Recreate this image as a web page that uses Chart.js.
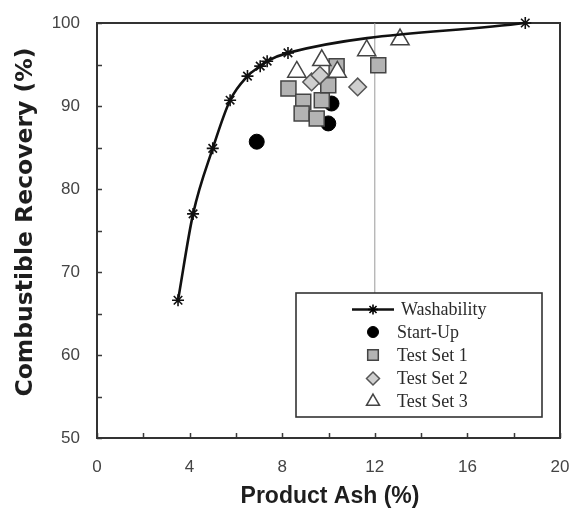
<!DOCTYPE html>
<html>
<head>
<meta charset="utf-8">
<script src="https://cdn.jsdelivr.net/npm/chart.js@4.4.1/dist/chart.umd.min.js"></script>
<style>
html,body{margin:0;padding:0;background:#fff;}
#wrap{width:574px;height:515px;}
</style>
</head>
<body>
<div id="wrap"><canvas id="c" width="574" height="515"></canvas></div>
<script>
// ---- data ----
const washAsh  = [3.5, 4.15, 5.0, 5.75, 6.5, 7.05, 7.35, 8.25, 18.5];
const washRec  = [66.6, 77.0, 84.9, 90.7, 93.6, 94.8, 95.4, 96.4, 100];
const startAsh = [6.9, 10.13, 9.99];
const startRec = [85.7, 90.3, 87.9];
const set1Ash  = [8.27, 8.91, 9.71, 8.84, 9.49, 9.99, 10.35, 12.15];
const set1Rec  = [92.1, 90.5, 90.7, 89.1, 88.5, 92.5, 94.8, 94.9];
const set2Ash  = [9.27, 9.63, 11.26];
const set2Rec  = [92.9, 93.7, 92.3];
const set3Ash  = [8.63, 9.71, 10.38, 11.65, 13.09];
const set3Rec  = [94.1, 95.5, 94.1, 96.7, 98.0];
const refAsh   = [12, 12];
const refRec   = [66, 100];
const xTickLabels = [0, 4, 8, 12, 16, 20];
const yTickLabels = [50, 60, 70, 80, 90, 100];
const seriesNames = ['Washability', 'Start-Up', 'Test Set 1', 'Test Set 2', 'Test Set 3'];
const xTitle = 'Product Ash (%)';
const yTitle = 'Combustible Recovery (%)';

function pts(xs, ys) { return xs.map((x, i) => ({x: x, y: ys[i]})); }

const styles = [
  {pointStyle: 'star', fill: '#000', stroke: '#000', lw: 1.6, r: 6, lr: 5},
  {pointStyle: 'circle', fill: '#000', stroke: '#000', lw: 1, r: 7.5, lr: 5.5},
  {pointStyle: 'rect', fill: '#b3b3b3', stroke: '#444', lw: 1.5, r: 10.6, lr: 7.5},
  {pointStyle: 'rectRot', fill: '#cfcfcf', stroke: '#555', lw: 1.5, r: 8.8, lr: 6.5},
  {pointStyle: 'triangle', fill: '#fff', stroke: '#444', lw: 1.5, r: 10.5, lr: 7.5}
];

function scatterSet(label, data, s, order) {
  return {
    label: label, data: data, showLine: false, clip: false, order: order,
    pointStyle: s.pointStyle, pointRadius: s.r, pointHoverRadius: s.r,
    backgroundColor: s.fill, borderColor: s.stroke, pointBorderWidth: s.lw
  };
}

const datasets = [
  {
    label: seriesNames[0], data: pts(washAsh, washRec), showLine: true, clip: false, order: 1,
    borderColor: '#111', borderWidth: 2.6, cubicInterpolationMode: 'monotone',
    pointStyle: 'star', pointRadius: styles[0].r, pointBorderColor: '#111',
    pointBackgroundColor: '#111', pointBorderWidth: styles[0].lw
  },
  scatterSet(seriesNames[1], pts(startAsh, startRec), styles[1], 6),
  scatterSet(seriesNames[2], pts(set1Ash, set1Rec), styles[2], 5),
  scatterSet(seriesNames[3], pts(set2Ash, set2Rec), styles[3], 4),
  scatterSet(seriesNames[4], pts(set3Ash, set3Rec), styles[4], 3),
  {
    label: 'ref', data: pts(refAsh, refRec), showLine: true, order: 10,
    borderColor: '#9a9a9a', borderWidth: 1, pointRadius: 0
  }
];

const framePlugin = {
  id: 'frameTicks',
  beforeDatasetsDraw(chart) {
    const ctx = chart.ctx, a = chart.chartArea;
    const xs = chart.scales.x, ys = chart.scales.y;
    ctx.save();
    ctx.strokeStyle = '#3a3a3a';
    ctx.lineWidth = 1.5;
    ctx.beginPath();
    xs.ticks.forEach(t => {
      const px = Math.round(xs.getPixelForValue(t.value)) + 0.5;
      ctx.moveTo(px, a.bottom); ctx.lineTo(px, a.bottom - 5);
    });
    ys.ticks.forEach(t => {
      const py = Math.round(ys.getPixelForValue(t.value)) + 0.5;
      ctx.moveTo(a.left, py); ctx.lineTo(a.left + 5, py);
    });
    ctx.stroke();
    ctx.lineWidth = 2;
    ctx.strokeStyle = '#333';
    ctx.strokeRect(a.left, a.top, a.right - a.left, a.bottom - a.top);
    ctx.restore();
  }
};

const legendPlugin = {
  id: 'boxLegend',
  afterDatasetsDraw(chart) {
    const ctx = chart.ctx;
    const bx = 296, by = 293, bw = 246, bh = 124;
    ctx.save();
    ctx.fillStyle = '#fff';
    ctx.fillRect(bx, by, bw, bh);
    ctx.strokeStyle = '#333';
    ctx.lineWidth = 1.6;
    ctx.strokeRect(bx, by, bw, bh);
    const rows = [309.5, 332, 355, 378.5, 401.5];
    const sx = 373;
    ctx.font = '18px "Liberation Serif", "Times New Roman", serif';
    ctx.textBaseline = 'middle';
    ctx.textAlign = 'left';
    seriesNames.forEach((name, i) => {
      const s = styles[i], y = rows[i];
      if (i === 0) {
        ctx.strokeStyle = '#111';
        ctx.lineWidth = 2.4;
        ctx.beginPath(); ctx.moveTo(352, y); ctx.lineTo(394, y); ctx.stroke();
      }
      ctx.fillStyle = s.fill;
      ctx.strokeStyle = s.stroke;
      ctx.lineWidth = s.lw;
      Chart.helpers.drawPoint(ctx, {pointStyle: s.pointStyle, radius: s.lr, rotation: 0, borderWidth: s.lw}, sx, y);
      ctx.fillStyle = '#2a2a2a';
      ctx.fillText(name, i === 0 ? 401 : 397, y + 1);
    });
    ctx.restore();
  }
};

const titlePlugin = {
  id: 'axisTitles',
  afterDraw(chart) {
    const ctx = chart.ctx;
    ctx.save();
    ctx.fillStyle = '#1e1e1e';
    ctx.textAlign = 'center';
    ctx.textBaseline = 'middle';
    ctx.font = 'bold 23px "Liberation Sans", Arial, sans-serif';
    ctx.fillText(xTitle, 330, 497);
    ctx.translate(25.5, 222);
    ctx.rotate(-Math.PI / 2);
    ctx.font = 'bold 23.5px "DejaVu Sans", sans-serif';
    ctx.fillText(yTitle, 0, 0);
    ctx.restore();
  }
};

new Chart(document.getElementById('c'), {
  type: 'scatter',
  data: {datasets: datasets},
  options: {
    responsive: false,
    animation: false,
    devicePixelRatio: 1,
    layout: {padding: {left: 0, right: 14, top: 23, bottom: 0}},
    plugins: {legend: {display: false}, tooltip: {enabled: false}},
    events: [],
    scales: {
      x: {
        type: 'linear', min: 0, max: 20,
        grid: {display: false},
        border: {display: false},
        title: {display: false},
        afterFit(s) { s.height = 77; s.paddingLeft = 0; s.paddingRight = 0; },
        ticks: {
          stepSize: 2, autoSkip: false, maxRotation: 0, padding: 11,
          color: '#444', font: {family: '"Liberation Sans", Arial, sans-serif', size: 17},
          callback: v => xTickLabels.includes(v) ? String(v) : ''
        }
      },
      y: {
        type: 'linear', min: 50, max: 100,
        grid: {display: false},
        border: {display: false},
        title: {display: false},
        afterFit(s) { s.width = 97; s.paddingTop = 0; s.paddingBottom = 0; },
        ticks: {
          stepSize: 5, autoSkip: false, padding: 9,
          color: '#444', font: {family: '"Liberation Sans", Arial, sans-serif', size: 17},
          callback: v => yTickLabels.includes(v) ? String(v) : ''
        }
      }
    }
  },
  plugins: [framePlugin, legendPlugin, titlePlugin]
});
</script>
</body>
</html>
